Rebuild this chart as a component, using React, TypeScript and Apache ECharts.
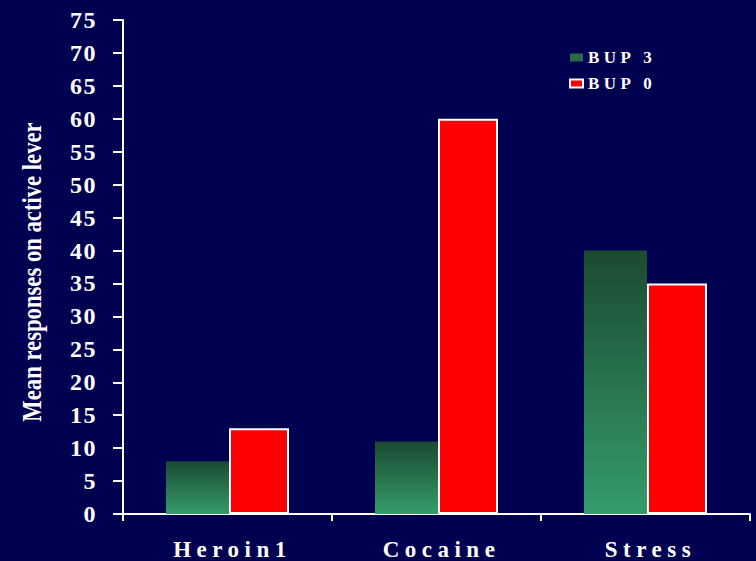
import React, { useEffect, useRef } from "react";
import * as echarts from "echarts";

const categories = ["Heroin1", "Cocaine", "Stress"];
const bup3 = [8, 11, 40];
const bup0 = [13, 60, 35];
const seriesNames = ["BUP 3", "BUP 0"];
const yTitle = "Mean responses on active lever";

const BG = "#000050";
const FONT = "'Liberation Serif', 'Times New Roman', serif";

export default function App() {
  const ref = useRef<HTMLDivElement>(null);
  useEffect(() => {
    if (!ref.current) return;
    const chart = echarts.init(ref.current, undefined, { renderer: "svg" });
    const green = new echarts.graphic.LinearGradient(0, 0, 0, 1, [
      { offset: 0, color: "#1b4a31" },
      { offset: 1, color: "#359c6c" },
    ]);
    chart.setOption({
      animation: false,
      backgroundColor: BG,
      grid: { left: 123, right: 6, top: 20, bottom: 45 },
      legend: {
        orient: "vertical",
        left: 564,
        top: 44,
        itemGap: 9,
        itemWidth: 13,
        itemHeight: 8,
        textStyle: { color: "#ffffff", fontFamily: FONT, fontWeight: "bold", fontSize: 17 },
        data: [
          { name: seriesNames[0], icon: "rect", itemStyle: { color: "#2a6a48", borderWidth: 0 } },
          { name: seriesNames[1], icon: "rect", itemStyle: { color: "#ff0000", borderColor: "#ffffff", borderWidth: 2 } },
        ],
      },
      graphic: [
        {
          type: "text",
          x: 32,
          y: 272,
          rotation: Math.PI / 2,
          scaleX: 0.81,
          style: {
            text: yTitle,
            fill: "#ffffff",
            font: `bold 28px ${FONT}`,
            align: "center",
            verticalAlign: "middle",
          },
        },
      ],
      xAxis: {
        type: "category",
        data: categories,
        axisLine: { lineStyle: { color: "#ffffff", width: 2 } },
        axisTick: { show: true, length: 7, lineStyle: { color: "#ffffff", width: 2 } },
        axisLabel: {
          color: "#ffffff",
          fontFamily: FONT,
          fontWeight: "bold",
          fontSize: 23,
          margin: 24,
        },
      },
      yAxis: {
        type: "value",
        min: 0,
        max: 75,
        interval: 5,
        splitLine: { show: false },
        axisLine: { show: true, lineStyle: { color: "#ffffff", width: 2 } },
        axisTick: { show: true, length: 10, lineStyle: { color: "#ffffff", width: 2 } },
        axisLabel: {
          color: "#ffffff",
          fontFamily: FONT,
          fontWeight: "bold",
          fontSize: 24,
          margin: 26,
        },
      },
      series: [
        {
          name: seriesNames[0],
          type: "bar",
          data: bup3,
          barWidth: 63,
          barGap: "0%",
          itemStyle: { color: green },
        },
        {
          name: seriesNames[1],
          type: "bar",
          data: bup0,
          barWidth: 60,
          itemStyle: { color: "#ff0000", borderColor: "#ffffff", borderWidth: 2 },
        },
      ],
    });
    const texts = ref.current.querySelectorAll("text");
    texts.forEach((t) => {
      const s = t.textContent || "";
      if (categories.includes(s)) {
        t.style.letterSpacing = "5.5px";
        const x = parseFloat(t.getAttribute("x") || "0");
        t.setAttribute("x", String(x + 5));
      } else if (seriesNames.includes(s)) {
        t.style.letterSpacing = "4.5px";
      } else if (/^\d+$/.test(s)) {
        t.style.letterSpacing = "1.5px";
      }
    });
    return () => chart.dispose();
  }, []);
  return (
    <div
      ref={ref}
      style={{ position: "fixed", left: 0, top: 0, width: 756, height: 561 }}
    />
  );
}
